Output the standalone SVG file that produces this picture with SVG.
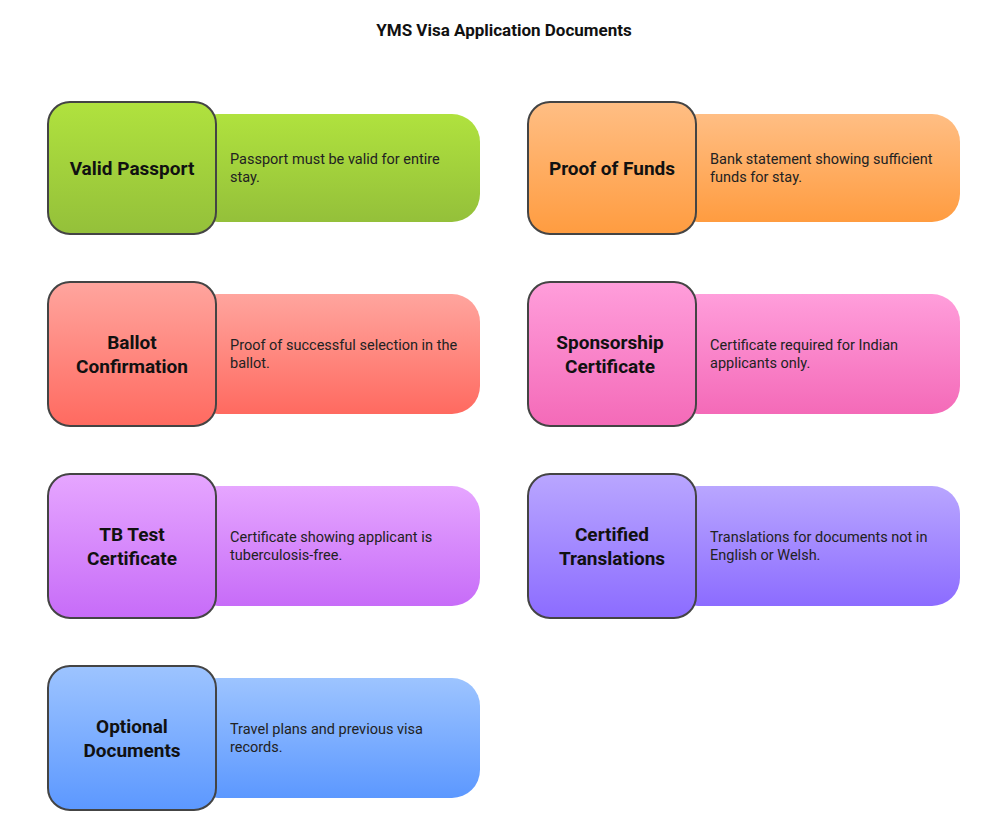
<svg xmlns="http://www.w3.org/2000/svg" width="1008" height="833" viewBox="0 0 1008 833">
<style>
.h{stroke:#444;stroke-width:2}
.t{font-family:Roboto,"Liberation Sans",sans-serif;font-weight:bold;font-size:19px;fill:#111;text-anchor:middle}
.d{font-family:Roboto,"Liberation Sans",sans-serif;font-size:14.5px;fill:#222}
</style>
<defs>
<linearGradient id="g1" x1="0" y1="0" x2="0" y2="1"><stop offset="0" stop-color="#b0e23e"/><stop offset="1" stop-color="#94c03a"/></linearGradient>
<linearGradient id="g2" x1="0" y1="0" x2="0" y2="1"><stop offset="0" stop-color="#ffbe84"/><stop offset="1" stop-color="#ff9c40"/></linearGradient>
<linearGradient id="g3" x1="0" y1="0" x2="0" y2="1"><stop offset="0" stop-color="#ffa59e"/><stop offset="1" stop-color="#ff6a60"/></linearGradient>
<linearGradient id="g4" x1="0" y1="0" x2="0" y2="1"><stop offset="0" stop-color="#ff9edb"/><stop offset="1" stop-color="#f46ab8"/></linearGradient>
<linearGradient id="g5" x1="0" y1="0" x2="0" y2="1"><stop offset="0" stop-color="#e6a6ff"/><stop offset="1" stop-color="#c76cf8"/></linearGradient>
<linearGradient id="g6" x1="0" y1="0" x2="0" y2="1"><stop offset="0" stop-color="#b9a6ff"/><stop offset="1" stop-color="#8c6cff"/></linearGradient>
<linearGradient id="g7" x1="0" y1="0" x2="0" y2="1"><stop offset="0" stop-color="#9dc4ff"/><stop offset="1" stop-color="#5c98ff"/></linearGradient>
</defs>
<rect width="1008" height="833" fill="#fff"/>
<text x="504" y="36" class="t" style="font-size:17px">YMS Visa Application Documents</text>
<g id="n1"><rect x="190" y="114" width="290" height="108" rx="28" fill="url(#g1)"/><rect x="48" y="102" width="168" height="132" rx="22" fill="url(#g1)" class="h"/><text x="132" y="175" class="t">Valid Passport</text><text class="d" x="230" y="164">Passport must be valid for entire<tspan x="230" dy="18">stay.</tspan></text></g>
<g id="n2"><rect x="670" y="114" width="290" height="108" rx="28" fill="url(#g2)"/><rect x="528" y="102" width="168" height="132" rx="22" fill="url(#g2)" class="h"/><text x="612" y="175" class="t">Proof of Funds</text><text class="d" x="710" y="164">Bank statement showing sufficient<tspan x="710" dy="18">funds for stay.</tspan></text></g>
<g id="n3"><rect x="190" y="294" width="290" height="120" rx="28" fill="url(#g3)"/><rect x="48" y="282" width="168" height="144" rx="22" fill="url(#g3)" class="h"/><text x="132" y="349" class="t">Ballot<tspan x="132" dy="24">Confirmation</tspan></text><text class="d" x="230" y="350">Proof of successful selection in the<tspan x="230" dy="18">ballot.</tspan></text></g>
<g id="n4"><rect x="670" y="294" width="290" height="120" rx="28" fill="url(#g4)"/><rect x="528" y="282" width="168" height="144" rx="22" fill="url(#g4)" class="h"/><text x="610" y="349" class="t">Sponsorship<tspan x="610" dy="24">Certificate</tspan></text><text class="d" x="710" y="350">Certificate required for Indian<tspan x="710" dy="18">applicants only.</tspan></text></g>
<g id="n5"><rect x="190" y="486" width="290" height="120" rx="28" fill="url(#g5)"/><rect x="48" y="474" width="168" height="144" rx="22" fill="url(#g5)" class="h"/><text x="132" y="541" class="t">TB Test<tspan x="132" dy="24">Certificate</tspan></text><text class="d" x="230" y="542">Certificate showing applicant is<tspan x="230" dy="18">tuberculosis-free.</tspan></text></g>
<g id="n6"><rect x="670" y="486" width="290" height="120" rx="28" fill="url(#g6)"/><rect x="528" y="474" width="168" height="144" rx="22" fill="url(#g6)" class="h"/><text x="612" y="541" class="t">Certified<tspan x="612" dy="24">Translations</tspan></text><text class="d" x="710" y="542">Translations for documents not in<tspan x="710" dy="18">English or Welsh.</tspan></text></g>
<g id="n7"><rect x="190" y="678" width="290" height="120" rx="28" fill="url(#g7)"/><rect x="48" y="666" width="168" height="144" rx="22" fill="url(#g7)" class="h"/><text x="132" y="733" class="t">Optional<tspan x="132" dy="24">Documents</tspan></text><text class="d" x="230" y="734">Travel plans and previous visa<tspan x="230" dy="18">records.</tspan></text></g>
<g id="connectors"/>
</svg>
